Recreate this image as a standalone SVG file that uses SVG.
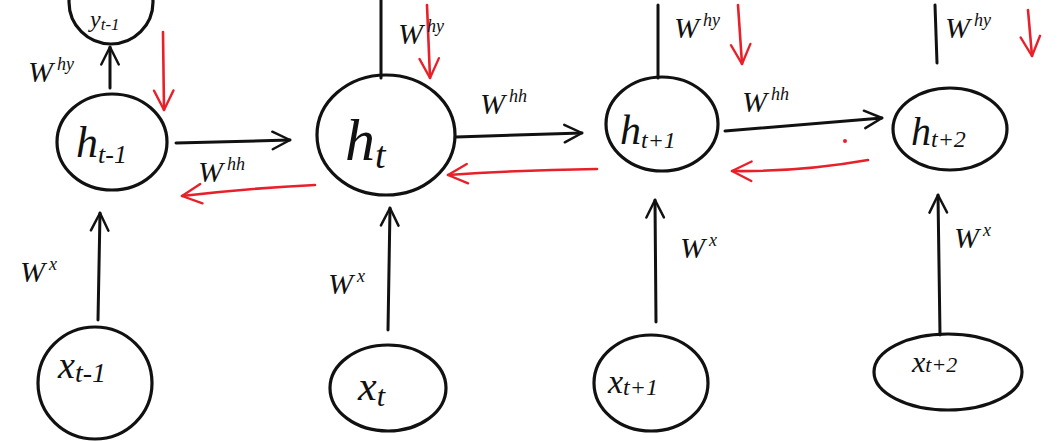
<svg xmlns="http://www.w3.org/2000/svg" width="1064" height="441" viewBox="0 0 1064 441">
<defs>
<marker id="ab" viewBox="0 0 12 12" refX="11" refY="6" markerWidth="7" markerHeight="7" orient="auto" markerUnits="strokeWidth"><path d="M1,1 L11,6 L1,11" fill="none" stroke="#111" stroke-width="1.4" stroke-linecap="round" stroke-linejoin="round"/></marker>
<marker id="ar" viewBox="0 0 12 12" refX="11" refY="6" markerWidth="9" markerHeight="9" orient="auto" markerUnits="strokeWidth"><path d="M1,1 L11,6 L1,11" fill="none" stroke="#e8202a" stroke-width="1.2" stroke-linecap="round" stroke-linejoin="round"/></marker>
</defs>
<style>
.n{fill:none;stroke:#111;stroke-width:3.2}
.c{fill:none;stroke:#111;stroke-width:3;stroke-linecap:round;marker-end:url(#ab)}
.p{fill:none;stroke:#111;stroke-width:3;stroke-linecap:round}
.r{fill:none;stroke:#e8202a;stroke-width:2.6;stroke-linecap:round;marker-end:url(#ar)}
.t{font-family:"Liberation Serif",serif;font-style:italic;fill:#111}
.w{font-family:"Liberation Serif",serif;font-style:italic;fill:#111;font-size:30px}
.s{font-size:18px}
</style>
<rect width="1064" height="441" fill="#fff"/>
<g id="connectors">
<line class="c" x1="110" y1="88" x2="110" y2="47"/>
<line class="c" x1="176" y1="143" x2="290" y2="140"/>
<line class="p" x1="381" y1="0" x2="381" y2="78"/>
<line class="c" x1="456" y1="137" x2="582" y2="133"/>
<line class="p" x1="658" y1="5" x2="658" y2="78"/>
<line class="c" x1="725" y1="131" x2="882" y2="118"/>
<line class="p" x1="935" y1="5" x2="937" y2="63"/>
<line class="c" x1="98" y1="320" x2="100" y2="213"/>
<line class="c" x1="388" y1="330" x2="390" y2="208"/>
<line class="c" x1="656" y1="322" x2="655" y2="200"/>
<line class="c" x1="940" y1="335" x2="938" y2="195"/>
<path class="r" d="M163,32 L164,110"/>
<path class="r" d="M427,5 L430,78"/>
<path class="r" d="M738,5 L742,64"/>
<path class="r" d="M1028,10 L1032,56"/>
<path class="r" d="M315,185 Q250,188 182,196"/>
<path class="r" d="M597,169 Q520,170 448,175"/>
<path class="r" d="M868,160 Q800,172 732,171"/>
<circle cx="845" cy="141" r="2" fill="#e8202a"/>
<text class="w" x="28" y="82">W<tspan class="s" dx="4" dy="-12">hy</tspan></text>
<text class="w" x="198" y="182">W<tspan class="s" dx="4" dy="-12">hh</tspan></text>
<text class="w" x="398" y="44">W<tspan class="s" dx="4" dy="-12">hy</tspan></text>
<text class="w" x="480" y="114">W<tspan class="s" dx="4" dy="-12">hh</tspan></text>
<text class="w" x="742" y="112">W<tspan class="s" dx="4" dy="-12">hh</tspan></text>
<text class="w" x="674" y="38">W<tspan class="s" dx="4" dy="-12">hy</tspan></text>
<text class="w" x="945" y="38">W<tspan class="s" dx="4" dy="-12">hy</tspan></text>
<text class="w" x="20" y="282">W<tspan class="s" dx="4" dy="-12">x</tspan></text>
<text class="w" x="328" y="294">W<tspan class="s" dx="4" dy="-12">x</tspan></text>
<text class="w" x="680" y="258">W<tspan class="s" dx="4" dy="-12">x</tspan></text>
<text class="w" x="954" y="248">W<tspan class="s" dx="4" dy="-12">x</tspan></text>
</g>
<g id="y_tm1"><ellipse class="n" cx="111" cy="2" rx="42" ry="42"/><text class="t" x="90" y="27" font-size="24">y<tspan font-size="17" dy="3">t-1</tspan></text></g>
<g id="h_tm1"><ellipse class="n" cx="112" cy="142" rx="55" ry="48"/><text class="t" x="76" y="157" font-size="44">h<tspan font-size="26" dy="6">t-1</tspan></text></g>
<g id="h_t"><ellipse class="n" cx="386" cy="135" rx="69" ry="60"/><text class="t" x="345" y="160" font-size="60">h<tspan font-size="38" dy="8">t</tspan></text></g>
<g id="h_tp1"><ellipse class="n" cx="662" cy="124" rx="56" ry="47"/><text class="t" x="620" y="144" font-size="42">h<tspan font-size="24" dy="4">t+1</tspan></text></g>
<g id="h_tp2"><ellipse class="n" cx="950" cy="129" rx="57" ry="41"/><text class="t" x="911" y="145" font-size="40">h<tspan font-size="24" dy="2">t+2</tspan></text></g>
<g id="x_tm1"><ellipse class="n" cx="95" cy="383" rx="57" ry="56"/><text class="t" x="58" y="378" font-size="38">x<tspan font-size="28" dy="4">t-1</tspan></text></g>
<g id="x_t"><ellipse class="n" cx="388" cy="388" rx="58" ry="43"/><text class="t" x="358" y="400" font-size="42">x<tspan font-size="30" dy="6">t</tspan></text></g>
<g id="x_tp1"><ellipse class="n" cx="651" cy="383" rx="57" ry="48"/><text class="t" x="608" y="393" font-size="34">x<tspan font-size="24" dy="2">t+1</tspan></text></g>
<g id="x_tp2"><ellipse class="n" cx="948" cy="372" rx="74" ry="38"/><text class="t" x="912" y="372" font-size="30">x<tspan font-size="22" dy="0">t+2</tspan></text></g>
</svg>
